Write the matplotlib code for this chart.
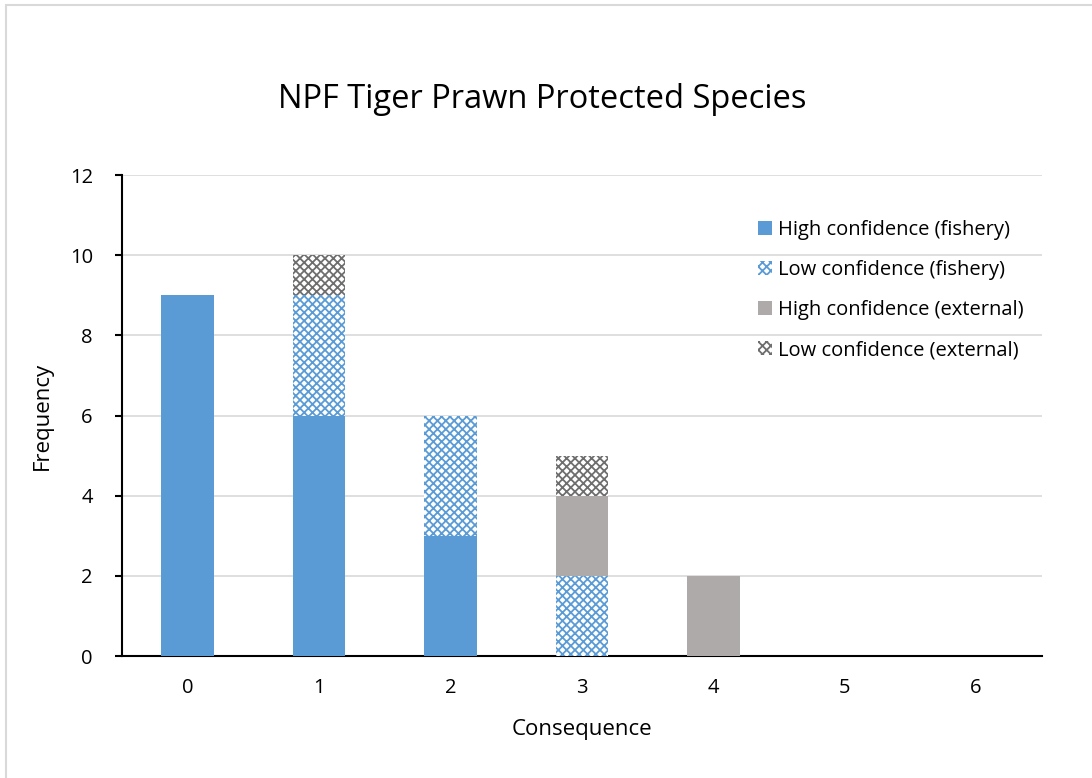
import matplotlib.pyplot as plt
from matplotlib.patches import Rectangle

# chart data
consequence = [0, 1, 2, 3, 4, 5, 6]
high_fishery = [9, 6, 3, 0, 0, 0, 0]
low_fishery = [0, 3, 3, 2, 0, 0, 0]
high_external = [0, 0, 0, 2, 2, 0, 0]
low_external = [0, 1, 0, 1, 0, 0, 0]
y_ticks = [0, 2, 4, 6, 8, 10, 12]

plt.rcParams['font.family'] = ['Open Sans', 'DejaVu Sans']
plt.rcParams['hatch.linewidth'] = 1.3

blue = '#5B9BD5'
grey = '#AEAAAA'
dark = '#6E6E6E'

fig = plt.figure(figsize=(10.92, 7.78), dpi=100)
ax = fig.add_axes([0.1117, 0.1568, 0.8423, 0.6182])

# light border around the chart area (right/bottom edges fall outside the picture)
fig.patches.append(Rectangle((6 / 1092, -0.05), 1.1, 1.05 - 5 / 778, transform=fig.transFigure,
                             fill=False, edgecolor='#D9D9D9', linewidth=1.5))

w = 0.4
b1 = high_fishery
b2 = [a + b for a, b in zip(b1, low_fishery)]
b3 = [a + b for a, b in zip(b2, high_external)]

ax.bar(consequence, high_fishery, w, color=blue, label='High confidence (fishery)', zorder=3)
ax.bar(consequence, low_fishery, w, bottom=b1, facecolor='white', edgecolor=blue,
       hatch='xxxx', linewidth=0, label='Low confidence (fishery)', zorder=3)
ax.bar(consequence, high_external, w, bottom=b2, color=grey, label='High confidence (external)', zorder=3)
ax.bar(consequence, low_external, w, bottom=b3, facecolor='white', edgecolor=dark,
       hatch='xxxx', linewidth=0, label='Low confidence (external)', zorder=3)

ax.set_xlim(-0.5, 6.5)
ax.set_ylim(0, 12)
ax.set_yticks(y_ticks)
ax.set_xticks(consequence)
ax.grid(axis='y', color='#D9D9D9', linewidth=1.2, zorder=0)

for s in ['top', 'right']:
    ax.spines[s].set_visible(False)
ax.spines['left'].set_linewidth(1.5)
ax.spines['bottom'].set_linewidth(1.5)
ax.tick_params(axis='x', length=0, labelsize=14.5, pad=16)
ax.tick_params(axis='y', length=5, width=1.5, labelsize=14.5, pad=16)

ax.set_xlabel('Consequence', fontsize=16, labelpad=15)
ax.set_ylabel('Frequency', fontsize=16, labelpad=12)
fig.text(0.497, 0.8715, 'NPF Tiger Prawn Protected Species', ha='center', va='center', fontsize=23.5)

ax.legend(loc='upper right', bbox_to_anchor=(1.0, 0.945), frameon=False, fontsize=14.5,
          handlelength=0.7, handleheight=0.7, handletextpad=0.3, labelspacing=1.0)

fig.savefig('out.png', dpi=100)
